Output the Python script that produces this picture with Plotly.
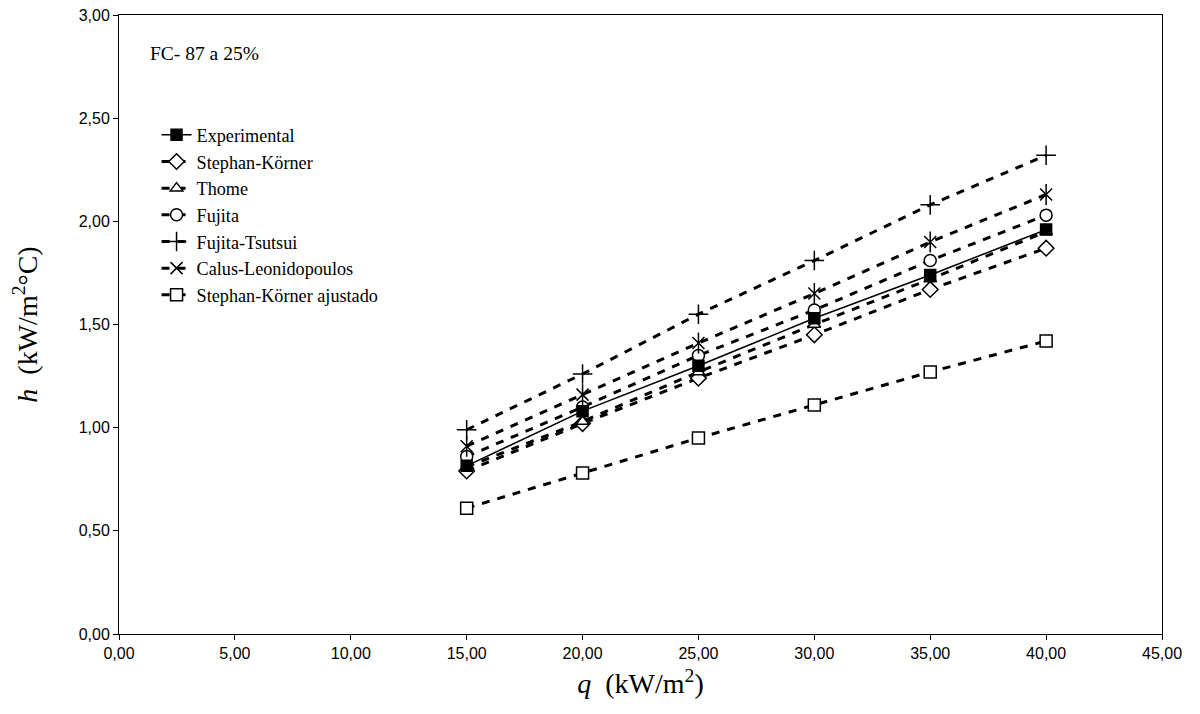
import plotly.graph_objects as go

q = [15, 20, 25, 30, 35, 40]
experimental = [0.815, 1.08, 1.30, 1.53, 1.74, 1.96]
stephan_korner = [0.79, 1.02, 1.24, 1.45, 1.67, 1.87]
thome = [0.81, 1.03, 1.27, 1.50, 1.72, 1.95]
fujita = [0.86, 1.10, 1.35, 1.57, 1.81, 2.03]
fujita_tsutsui = [0.99, 1.26, 1.55, 1.81, 2.08, 2.32]
calus_leonidopoulos = [0.91, 1.16, 1.41, 1.65, 1.90, 2.13]
stephan_korner_ajustado = [0.61, 0.78, 0.95, 1.11, 1.27, 1.42]

x_ticks = [0, 5, 10, 15, 20, 25, 30, 35, 40, 45]
y_ticks = [0, 0.5, 1.0, 1.5, 2.0, 2.5, 3.0]

def fmt(v):
    return f"{v:.2f}".replace(".", ",")

DASH = "8px,8px"
fig = go.Figure()

series = [
    ("Experimental", experimental, "square", "black", dict(color="black", width=1.5, dash="solid"), 11),
    ("Stephan-Körner", stephan_korner, "diamond", "white", dict(color="black", width=3, dash=DASH), 12),
    ("Thome", thome, "triangle-up", "white", dict(color="black", width=3, dash=DASH), 11),
    ("Fujita", fujita, "circle", "white", dict(color="black", width=3, dash=DASH), 12),
    ("Fujita-Tsutsui", fujita_tsutsui, "cross-thin-open", "black", dict(color="black", width=3, dash=DASH), 14),
    ("Calus-Leonidopoulos", calus_leonidopoulos, "x-thin-open", "black", dict(color="black", width=3, dash=DASH), 12),
    ("Stephan-Körner ajustado", stephan_korner_ajustado, "square", "white", dict(color="black", width=3, dash=DASH), 12),
]

order = [1, 2, 3, 4, 5, 6, 0]
traces = {}
for i, (name, ys, sym, fill, line, size) in enumerate(series):
    traces[i] = go.Scatter(
        x=q, y=ys, name=name, mode="lines+markers",
        line=line,
        marker=dict(symbol=sym, size=size, color=fill,
                    line=dict(color="black", width=1.5)),
        legendrank=i + 1,
    )
for i in order:
    fig.add_trace(traces[i])
    if i == 5:
        # vertical stroke completing the asterisk marker
        fig.add_trace(go.Scatter(
            x=q, y=calus_leonidopoulos, mode="markers", showlegend=False,
            marker=dict(symbol="line-ns-open", size=15, color="black",
                        line=dict(color="black", width=1.5)),
            hoverinfo="skip",
        ))

# page body adds an 8px offset, so the figure is sized/margined to compensate
fig.update_layout(
    width=1184, height=698,
    paper_bgcolor="white", plot_bgcolor="white",
    margin=dict(l=111, r=30, t=7, b=72),
    showlegend=True,
    legend=dict(
        x=0.036, y=0.836, xanchor="left", yanchor="top",
        font=dict(family="Liberation Serif", size=18.2, color="black"),
        bgcolor="rgba(0,0,0,0)", tracegroupgap=0, itemwidth=30,
    ),
    annotations=[dict(
        text="FC- 87 a 25%", x=0.028, y=0.937, xref="paper", yref="paper",
        xanchor="left", yanchor="middle", showarrow=False,
        font=dict(family="Liberation Serif", size=19.5, color="black"),
    )],
)

fig.update_xaxes(
    range=[0, 45], tickvals=x_ticks, ticktext=[fmt(v) for v in x_ticks],
    showgrid=False, zeroline=False, showline=True, linecolor="black", linewidth=1,
    mirror=True, ticks="outside", ticklen=5, tickcolor="black", automargin=False,
    ticklabeloverflow="allow",
    tickfont=dict(family="Liberation Sans", size=16, color="black"),
    title=dict(text="<i>q</i>  (kW/m<sup>2</sup>)",
               font=dict(family="Liberation Serif", size=28, color="black"), standoff=12),
)
fig.update_yaxes(
    range=[0, 3], tickvals=y_ticks, ticktext=[fmt(v) for v in y_ticks],
    showgrid=False, zeroline=False, showline=True, linecolor="black", linewidth=1,
    mirror=True, ticks="outside", ticklen=5, tickcolor="black", automargin=False,
    ticklabeloverflow="allow",
    tickfont=dict(family="Liberation Sans", size=16, color="black"),
    title=dict(text="<i>h</i>  (kW/m<sup>2</sup>°C)",
               font=dict(family="Liberation Serif", size=28, color="black"), standoff=34),
)

fig.write_html("out.html")
